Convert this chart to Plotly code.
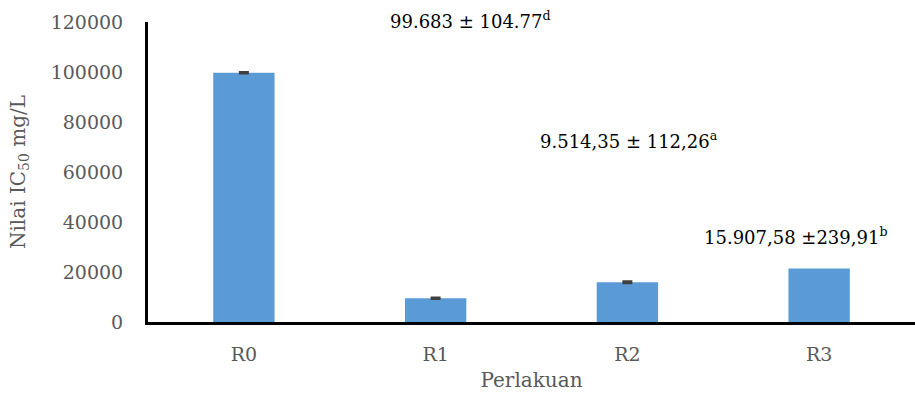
import plotly.graph_objects as go

categories = ["R0", "R1", "R2", "R3"]
values = [99683, 9514.35, 15907.58, 21400]
err_categories = ["R0", "R1", "R2"]
err_values = [99683, 9514.35, 15907.58]
errors = [104.77, 112.26, 239.91]
labels = ["99.683 ± 104.77<sup>d</sup>", "9.514,35 ± 112,26<sup>a</sup>", "15.907,58 ±239,91<sup>b</sup>"]
label_pos = [(0.420, 1.007), (0.627, 0.607), (0.844, 0.287)]
y_ticks = [0, 20000, 40000, 60000, 80000, 100000, 120000]
y_ticktext = ["0", "20000", "40000", "60000", "80000", "100000", "120000"]

FONT = "DejaVu Serif"
GREY = "#595959"

fig = go.Figure()
fig.add_trace(go.Bar(
    x=categories, y=values,
    marker=dict(color="#5B9BD5", line=dict(width=0)),
))
fig.add_trace(go.Scatter(
    x=err_categories, y=err_values, mode="markers",
    marker=dict(size=1, opacity=0),
    error_y=dict(type="data", array=errors, visible=True, color="#404040", thickness=3, width=5),
    hoverinfo="skip",
))

for txt, (px, py) in zip(labels, label_pos):
    fig.add_annotation(text=txt, x=px, y=py, xref="paper", yref="paper", showarrow=False,
                       font=dict(family=FONT, size=18, color="#000000"), xanchor="center", yanchor="middle")

fig.update_layout(
    width=915, height=396,
    margin=dict(l=148, r=0, t=22, b=74),
    plot_bgcolor="white", paper_bgcolor="white",
    bargap=0.68, showlegend=False,
    font=dict(family=FONT, size=19, color=GREY),
)
fig.update_xaxes(showline=True, linecolor="black", linewidth=3, showgrid=False,
                 ticks="", ticklabelstandoff=13,
                 tickfont=dict(family=FONT, size=19, color=GREY),
                 title=dict(text="Perlakuan", font=dict(family=FONT, size=20, color=GREY), standoff=10))
fig.update_yaxes(range=[0, 120000], tickvals=y_ticks, ticktext=y_ticktext, showline=True,
                 linecolor="black", linewidth=3,
                 showgrid=False, zeroline=False, ticks="", ticklabelstandoff=18,
                 tickfont=dict(family=FONT, size=19, color=GREY),
                 title=dict(text="Nilai IC<sub>50</sub> mg/L", font=dict(family=FONT, size=20, color=GREY), standoff=20))

fig.write_html("out.html")
